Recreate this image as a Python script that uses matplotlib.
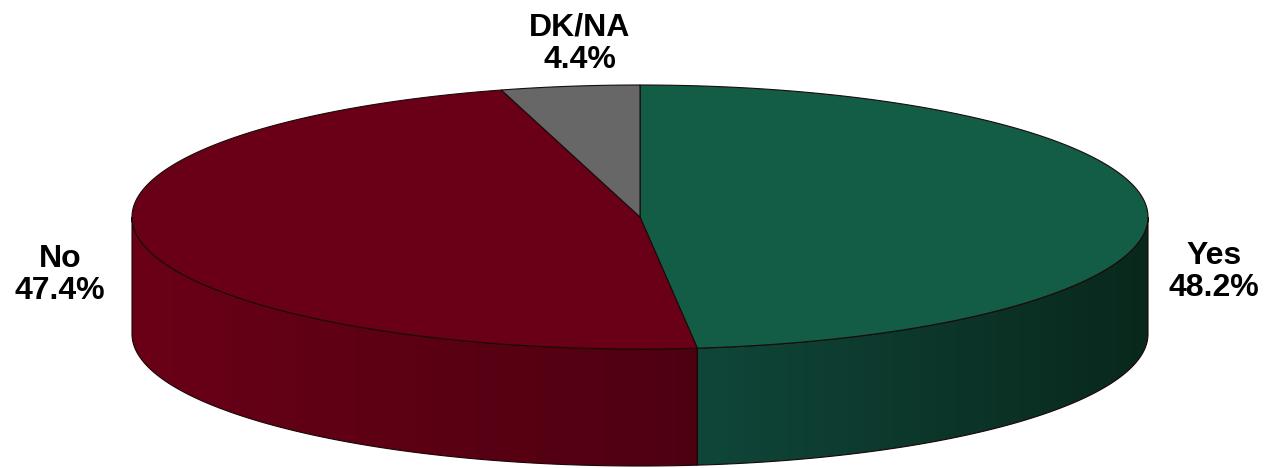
import numpy as np
import matplotlib.pyplot as plt
from matplotlib.patches import Polygon
from matplotlib.colors import LinearSegmentedColormap

labels = ['Yes', 'No', 'DK/NA']
values = [48.2, 47.4, 4.4]
top_colors = ['#135c45', '#6a0017', '#676767']
side_colors = [('#10463a', '#09281c'), ('#6a0017', '#4e0011'), ('#555555', '#444444')]

# pie geometry in pixels
cx, cy, a, b, depth = 640, 217, 508, 132, 117
label_pos = [(1214, 272), (60, 275), (580, 44)]


def arc(t1, t2, dy=0, n=200):
    t = np.radians(np.linspace(t1, t2, n))
    return np.column_stack([cx + a * np.cos(t), cy - b * np.sin(t) + dy])


fig = plt.figure(figsize=(12.66, 4.68), dpi=100)
ax = fig.add_axes([0, 0, 1, 1])
ax.set_xlim(0, 1266)
ax.set_ylim(468, 0)
ax.axis('off')

# slice angles, clockwise from 12 o'clock
total = sum(values)
start = 90.0
spans = []
for v in values:
    end = start - v / total * 360
    spans.append((end, start))
    start = end

# side walls (front half only)
for (t1, t2), (c1, c2) in zip(spans, side_colors):
    lo, hi = max(t1, -180), min(t2, 0)
    if lo >= hi:
        continue
    top = arc(lo, hi)
    bot = arc(hi, lo, depth)
    poly = Polygon(np.vstack([top, bot]), closed=True, facecolor='none',
                   edgecolor='#1a0505', lw=0.8, zorder=3)
    ax.add_patch(poly)
    x0, x1 = top[:, 0].min(), top[:, 0].max()
    y0, y1 = top[:, 1].min(), bot[:, 1].max()
    cmap = LinearSegmentedColormap.from_list('g', [c1, c2])
    grad = np.linspace(0, 1, 256).reshape(1, -1)
    im = ax.imshow(grad, cmap=cmap, extent=[x0, x1, y1, y0], aspect='auto',
                   zorder=2, interpolation='bilinear')
    im.set_clip_path(poly)

# top face
for (t1, t2), col in zip(spans, top_colors):
    pts = np.vstack([[cx, cy], arc(t1, t2), [cx, cy]])
    ax.add_patch(Polygon(pts, closed=True, facecolor=col, edgecolor='#1a0a0a',
                         lw=0.8, zorder=4))

ax.set_xlim(0, 1266)
ax.set_ylim(468, 0)

for lab, v, (x, y) in zip(labels, values, label_pos):
    ax.text(x, y, f'{lab}\n{v:.1f}%', ha='center', va='center',
            fontsize=23, fontweight='bold', family='Liberation Sans',
            linespacing=1.1, zorder=5)

fig.savefig('out.png', dpi=100)
